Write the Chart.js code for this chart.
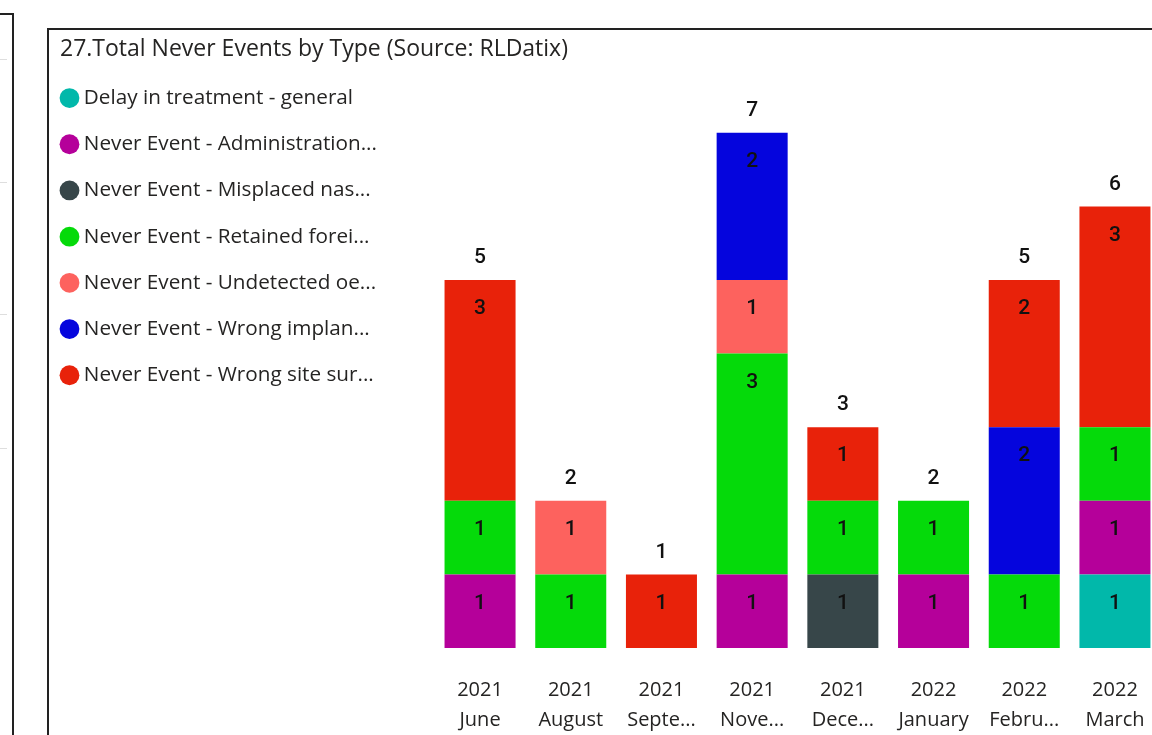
<!DOCTYPE html>
<html>
<head>
<meta charset="utf-8">
<script src="https://cdn.jsdelivr.net/npm/chart.js@4/dist/chart.umd.min.js"></script>
<style>
  html, body { margin: 0; padding: 0; width: 1152px; height: 735px; overflow: hidden; background: #fff; }
  #leftPanel { position: absolute; left: -10px; top: 13px; width: 22px; height: 800px; border-top: 2px solid #222; border-right: 2px solid #222; }
  .stub { position: absolute; left: 0; width: 7px; height: 1px; background: #dedede; }
  #mainPanel { position: absolute; left: 47px; top: 28px; width: 1200px; height: 800px; border-top: 2px solid #222; border-left: 2px solid #222; }
  #wrap { position: absolute; left: 0; top: 0; width: 1170px; height: 735px; }
</style>
</head>
<body>
<div id="leftPanel"></div>
<div class="stub" style="top:59px"></div>
<div class="stub" style="top:182px"></div>
<div class="stub" style="top:314px"></div>
<div class="stub" style="top:448px"></div>
<div id="mainPanel"></div>
<div id="wrap"><canvas id="c" width="1170" height="735"></canvas></div>
<script>
const categories = [
  ["2021", "June"], ["2021", "August"], ["2021", "Septe..."], ["2021", "Nove..."],
  ["2021", "Dece..."], ["2022", "January"], ["2022", "Febru..."], ["2022", "March"]
];
const seriesNames = [
  "Delay in treatment - general",
  "Never Event - Administration...",
  "Never Event - Misplaced nas...",
  "Never Event - Retained forei...",
  "Never Event - Undetected oe...",
  "Never Event - Wrong implan...",
  "Never Event - Wrong site sur..."
];
const delayInTreatment = [null, null, null, null, null, null, null, 1];
const administration   = [1, null, null, 1, null, 1, null, 1];
const misplacedNas     = [null, null, null, null, 1, null, null, null];
const retainedForeign  = [1, 1, null, 3, 1, 1, 1, 1];
const undetectedOe     = [null, 1, null, 1, null, null, null, null];
const wrongImplant     = [null, null, null, 2, null, null, 2, null];
const wrongSite        = [3, null, 1, null, 1, null, 2, 3];
const seriesColors = ["#01B8AA", "#B5009A", "#374649", "#05DA0A", "#FD625E", "#0505DD", "#E8220A"];

const seriesValues = [delayInTreatment, administration, misplacedNas, retainedForeign, undetectedOe, wrongImplant, wrongSite];

const textColor = "#252423";
const uiFont = "'Open Sans', 'Noto Sans', sans-serif";
const labelFont = "Roboto, 'DejaVu Sans', sans-serif";

const datasets = seriesValues.map((vals, i) => ({
  label: seriesNames[i],
  data: vals,
  backgroundColor: seriesColors[i],
  borderWidth: 0,
  categoryPercentage: 1,
  barPercentage: 0.783
}));

const labelPlugin = {
  id: 'labels',
  afterDatasetsDraw(chart) {
    const ctx = chart.ctx;
    ctx.save();
    ctx.fillStyle = "#111";
    ctx.font = "500 21px " + labelFont;
    ctx.textAlign = "center";
    ctx.textBaseline = "middle";
    chart.data.datasets.forEach((ds, di) => {
      const meta = chart.getDatasetMeta(di);
      meta.data.forEach((el, i) => {
        const v = ds.data[i];
        if (v == null) return;
        ctx.fillText(String(v), el.x, el.y + 29);
      });
    });
    const y = chart.scales.y;
    const x = chart.scales.x;
    categories.forEach((c, i) => {
      let total = 0;
      seriesValues.forEach(s => { total += s[i] || 0; });
      ctx.fillText(String(total), x.getPixelForValue(i), y.getPixelForValue(total) - 22);
    });
    ctx.restore();
  }
};

const legendPlugin = {
  id: 'legendFix',
  beforeInit(chart) {
    const orig = chart.legend.fit;
    chart.legend.fit = function () {
      orig.bind(chart.legend)();
      this.width = 374.7;
    };
  },
  afterLayout(chart) {
    const lg = chart.legend;
    lg.left = 40; lg.top = 62.2;
  }
};

new Chart(document.getElementById('c'), {
  type: 'bar',
  data: { labels: categories, datasets },
  plugins: [legendPlugin, labelPlugin],
  options: {
    responsive: false,
    animation: false,
    layout: { padding: { left: 60, right: 9.7, top: 35.2, bottom: 0 } },
    plugins: {
      title: {
        display: true,
        text: "27.Total Never Events by Type (Source: RLDatix)",
        align: 'start',
        color: textColor,
        font: { family: uiFont, size: 23, weight: 'normal', lineHeight: 1.2 },
        padding: { top: 0, bottom: -3.6 }
      },
      legend: {
        display: true,
        position: 'left',
        align: 'start',
        fullSize: false,
        labels: {
          usePointStyle: true,
          pointStyle: 'circle',
          boxWidth: 8,
          boxHeight: 14,
          padding: 25.5,
          color: textColor,
          font: { family: uiFont, size: 20.7 }
        }
      },
      tooltip: { enabled: false }
    },
    scales: {
      x: {
        stacked: true,
        grid: { display: false, drawTicks: false },
        border: { display: false },
        ticks: {
          color: textColor,
          padding: 27,
          maxRotation: 0,
          autoSkip: false,
          font: { family: uiFont, size: 20, lineHeight: 1.5 }
        },
        afterFit(scale) {
          scale.height = 87;
          scale.paddingLeft = 0;
          scale.paddingRight = 0;
        }
      },
      y: {
        stacked: true,
        display: false,
        min: 0,
        max: 8
      }
    }
  }
});
</script>
</body>
</html>
